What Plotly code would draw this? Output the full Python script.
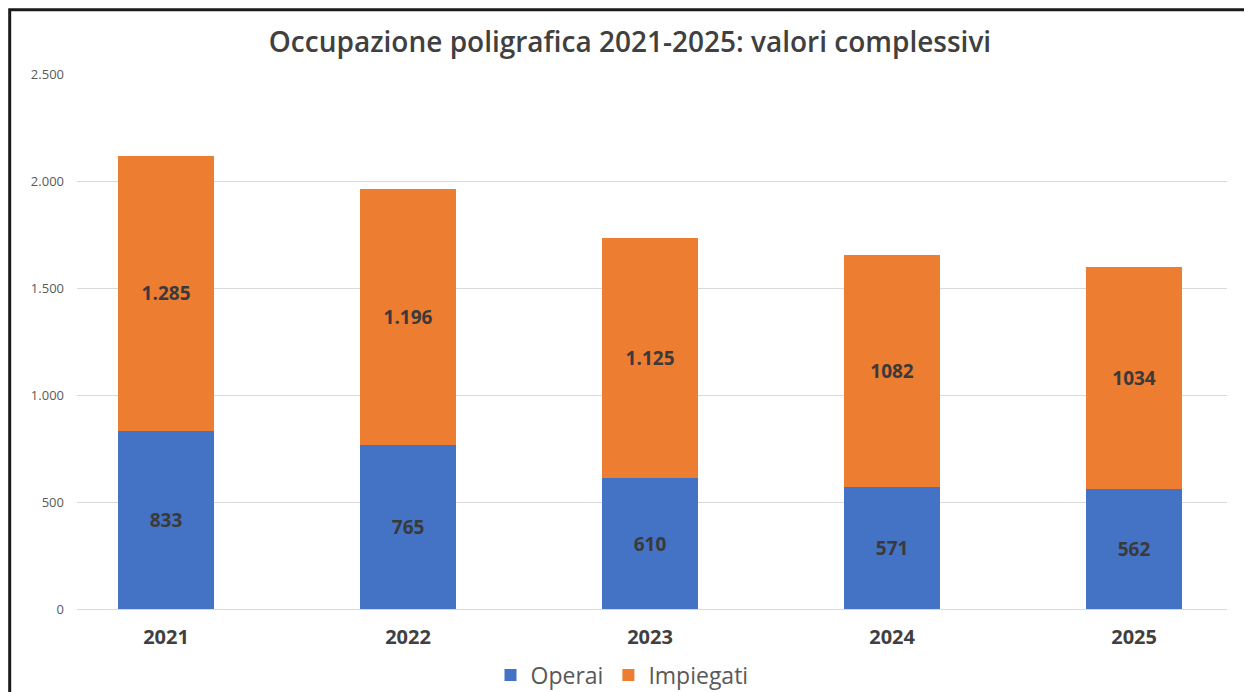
import plotly.graph_objects as go

years = ["2021", "2022", "2023", "2024", "2025"]
operai = [833, 765, 610, 571, 562]
impiegati = [1285, 1196, 1125, 1082, 1034]
operai_labels = ["833", "765", "610", "571", "562"]
impiegati_labels = ["1.285", "1.196", "1.125", "1082", "1034"]
y_ticks = [0, 500, 1000, 1500, 2000, 2500]

FONT = "Open Sans"
BLUE = "#4472C4"
ORANGE = "#ED7D31"

# page body has an 8px default margin -> figure is 8px smaller and shifted
W, H = 1244, 684
L, R, T, B = 69, 25, 66, 83

fig = go.Figure()
for name, vals, labels, col in [("Operai", operai, operai_labels, BLUE),
                                ("Impiegati", impiegati, impiegati_labels, ORANGE)]:
    fig.add_trace(go.Bar(
        x=years, y=vals, name=name, marker=dict(color=col, line=dict(width=0)),
        width=0.4, text=labels, textposition="inside", insidetextanchor="middle",
        textfont=dict(family=FONT, size=19, color="#3a3a3a", weight="bold"),
        textangle=0,
    ))

plot_w = W - L - R
plot_h = H - T - B

fig.update_layout(
    barmode="stack",
    width=W, height=H,
    margin=dict(l=L, r=R, t=T, b=B, autoexpand=False),
    paper_bgcolor="white", plot_bgcolor="white",
    separators=",.",
    title=dict(text="Occupazione poligrafica 2021-2025: valori complessivi",
               x=(630 - 8) / W, xanchor="center", xref="container",
               y=1 - (42 - 8) / H, yanchor="middle", yref="container",
               font=dict(family=FONT, size=28, color="#404040", weight=600)),
    xaxis=dict(type="category", range=[-0.368, 4.384], showgrid=False, zeroline=False,
               showline=False, ticks="", ticklabelstandoff=14,
               tickfont=dict(family=FONT, size=20, color="#404040", weight="bold")),
    yaxis=dict(range=[0, 2500], tickvals=y_ticks, tickformat=",", showgrid=True,
               gridcolor="#D9D9D9", gridwidth=1, zeroline=True, zerolinecolor="#D9D9D9",
               zerolinewidth=1, showline=False, ticks="", ticklabelstandoff=12,
               tickfont=dict(family=FONT, size=13, color="#595959")),
    legend=dict(orientation="h", x=(622 - 8) / W, xanchor="center", xref="container",
                y=(H - (675 - 8)) / H, yanchor="middle", yref="container",
                font=dict(family=FONT, size=23, color="#595959"), traceorder="normal",
                itemwidth=30),
    showlegend=True,
    shapes=[dict(type="rect", xref="paper", yref="paper",
                 x0=(9.7 - 8 - L) / plot_w, x1=1.2, y0=-0.4,
                 y1=(H - B - (9.7 - 8)) / plot_h,
                 line=dict(color="#1a1a1a", width=3), fillcolor="rgba(0,0,0,0)", layer="above")],
)

fig.write_html("out.html")
